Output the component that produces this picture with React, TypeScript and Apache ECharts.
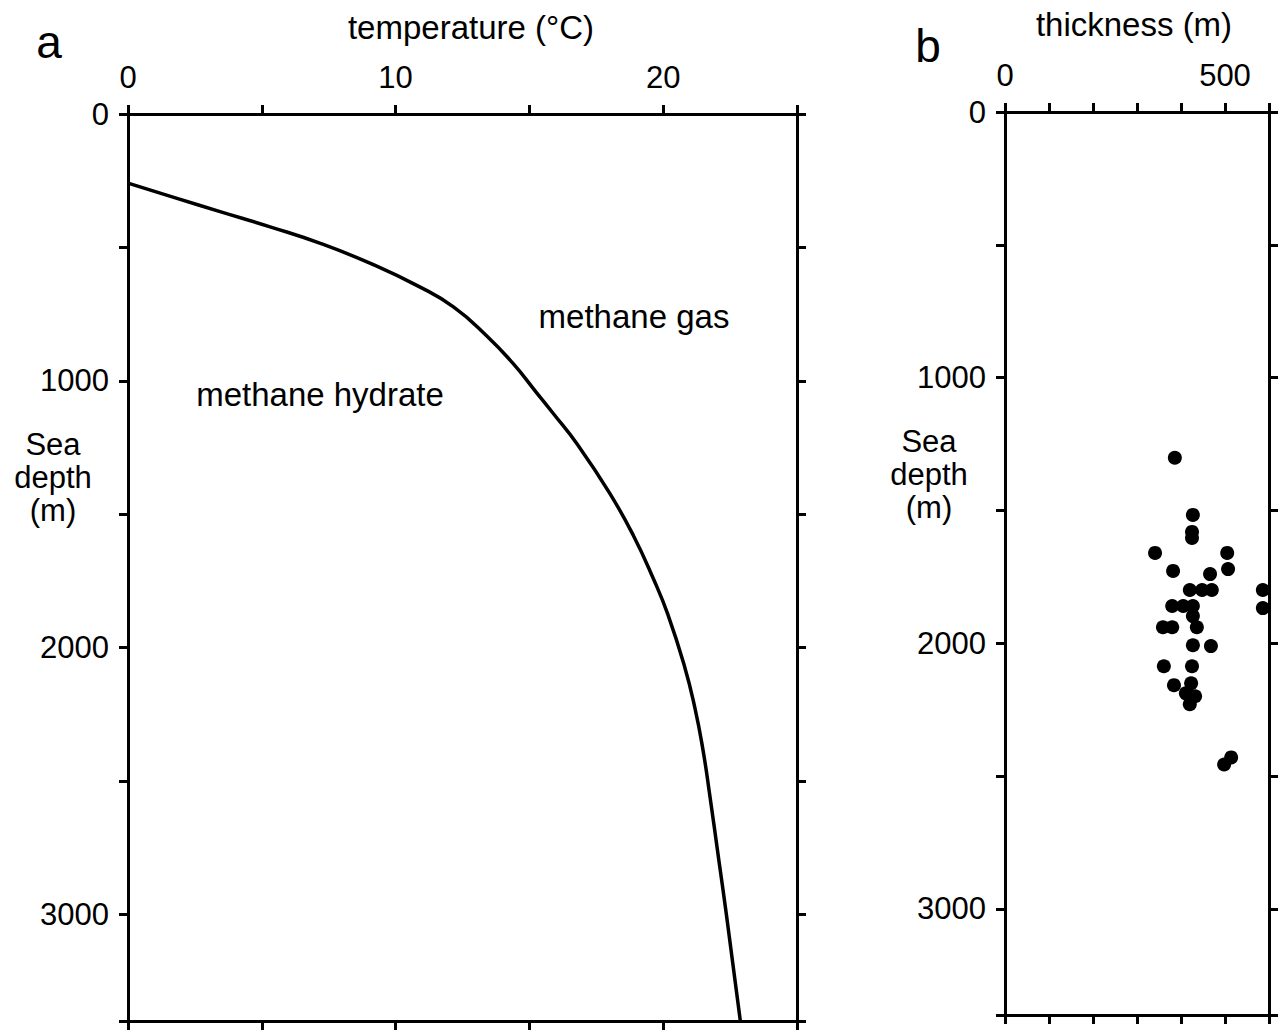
import React, { useEffect, useRef } from "react";
import * as echarts from "echarts";

// Panel a: methane hydrate stability boundary (temperature °C vs sea depth m)
const boundaryTemperature = [
  0, 1.83, 3.44, 5.31, 7.19, 9.06, 10.9, 12.16, 13.38, 14.38, 15.28, 15.87, 16.81, 18.01,
  18.88, 19.65, 20.17, 20.79, 21.18, 21.48, 21.73, 22.09, 22.36, 22.88,
];
const boundaryDepth = [
  259, 316, 366, 423, 485, 560, 648, 723, 829, 934, 1046, 1120, 1241, 1423,
  1579, 1746, 1875, 2068, 2224, 2380, 2546, 2805, 3000, 3398,
];

// Panel b: hydrate layer thickness (m) vs sea depth (m)
const thicknessValues = [
  386, 427, 425, 425, 341, 505, 382, 466, 507, 420, 448, 470, 586, 380, 405, 427,
  586, 427, 359, 380, 436, 427, 468, 361, 425, 384, 423, 411, 432, 420, 498, 514,
];
const thicknessDepth = [
  1302, 1517, 1581, 1604, 1660, 1660, 1728, 1740, 1721, 1800, 1800, 1800, 1800, 1860, 1860, 1860,
  1868, 1898, 1940, 1940, 1940, 2008, 2011, 2087, 2087, 2158, 2151, 2189, 2200, 2230, 2457, 2430,
];

const tempTicks = { min: 0, max: 25, interval: 5, labelEvery: 10 };
const thickTicks = { min: 0, max: 600, interval: 100, labelEvery: 500 };
const depthTicks = { min: 0, max: 3400, interval: 500, labelEvery: 1000 };
const yTitleLines = ["Sea", "depth", "(m)"];

const FONT = "'Liberation Sans', Arial, Helvetica, sans-serif";

export default function App() {
  const ref = useRef<HTMLDivElement>(null);

  useEffect(() => {
    document.body.style.margin = "0";
    if (!ref.current) return;
    const chart = echarts.init(ref.current, undefined, { renderer: "svg" });

    const axisLine = { show: true, onZero: false, lineStyle: { color: "#000", width: 3 } };
    const axisTick = { show: true, length: 9, lineStyle: { color: "#000", width: 3 } };
    const labelStyle = { color: "#000", fontSize: 31, fontFamily: FONT };

    const mkX = (grid: number, pos: "top" | "bottom", t: any, showLabel: boolean) => ({
      type: "value",
      gridIndex: grid,
      position: pos,
      min: t.min,
      max: t.max,
      interval: t.interval,
      axisLine,
      axisTick,
      splitLine: { show: false },
      axisLabel: {
        show: showLabel,
        ...labelStyle,
        margin: 21,
        formatter: (v: number) => (v % t.labelEvery === 0 ? String(v) : ""),
      },
    });
    const mkY = (grid: number, pos: "left" | "right", t: any, showLabel: boolean) => ({
      type: "value",
      gridIndex: grid,
      position: pos,
      inverse: true,
      min: t.min,
      max: t.max,
      interval: t.interval,
      axisLine,
      axisTick,
      splitLine: { show: false },
      axisLabel: {
        show: showLabel,
        ...labelStyle,
        margin: 19,
        formatter: (v: number) => (v % t.labelEvery === 0 ? String(v) : ""),
      },
    });

    const txt = (x: number, y: number, text: string, size = 33) => ({
      type: "text",
      x,
      y,
      style: {
        text,
        fill: "#000",
        font: `${size}px ${FONT}`,
        textAlign: "center",
        textVerticalAlign: "middle",
      },
    });

    const yTitle = (cx: number, cy: number) =>
      yTitleLines.map((line, i) => txt(cx, cy + (i - 1) * 33, line, 31));

    chart.setOption({
      animation: false,
      backgroundColor: "#fff",
      textStyle: { fontFamily: FONT, color: "#000" },
      grid: [
        { left: 128, top: 114, width: 669, height: 907 },
        { left: 1005, top: 112, width: 264, height: 903 },
      ],
      xAxis: [
        mkX(0, "top", tempTicks, true),
        mkX(0, "bottom", tempTicks, false),
        mkX(1, "top", thickTicks, true),
        mkX(1, "bottom", thickTicks, false),
      ],
      yAxis: [
        mkY(0, "left", depthTicks, true),
        mkY(0, "right", depthTicks, false),
        mkY(1, "left", depthTicks, true),
        mkY(1, "right", depthTicks, false),
      ],
      series: [
        {
          type: "line",
          xAxisIndex: 0,
          yAxisIndex: 0,
          data: boundaryTemperature.map((t, i) => [t, boundaryDepth[i]]),
          smooth: 0.5,
          showSymbol: false,
          lineStyle: { color: "#000", width: 3.5 },
        },
        {
          type: "scatter",
          xAxisIndex: 2,
          yAxisIndex: 2,
          data: thicknessValues.map((t, i) => [t, thicknessDepth[i]]),
          symbol: "circle",
          symbolSize: 14,
          itemStyle: { color: "#000", opacity: 1 },
        },
      ],
      graphic: [
        txt(49, 42, "a", 46),
        txt(928, 46, "b", 46),
        txt(471, 27, "temperature (°C)", 33),
        txt(1134, 24, "thickness (m)", 33),
        ...yTitle(53, 477),
        ...yTitle(929, 474),
        txt(634, 316, "methane gas", 33),
        txt(320, 394, "methane hydrate", 33),
      ],
    });

    return () => chart.dispose();
  }, []);

  return <div ref={ref} style={{ width: 1286, height: 1031 }} />;
}
